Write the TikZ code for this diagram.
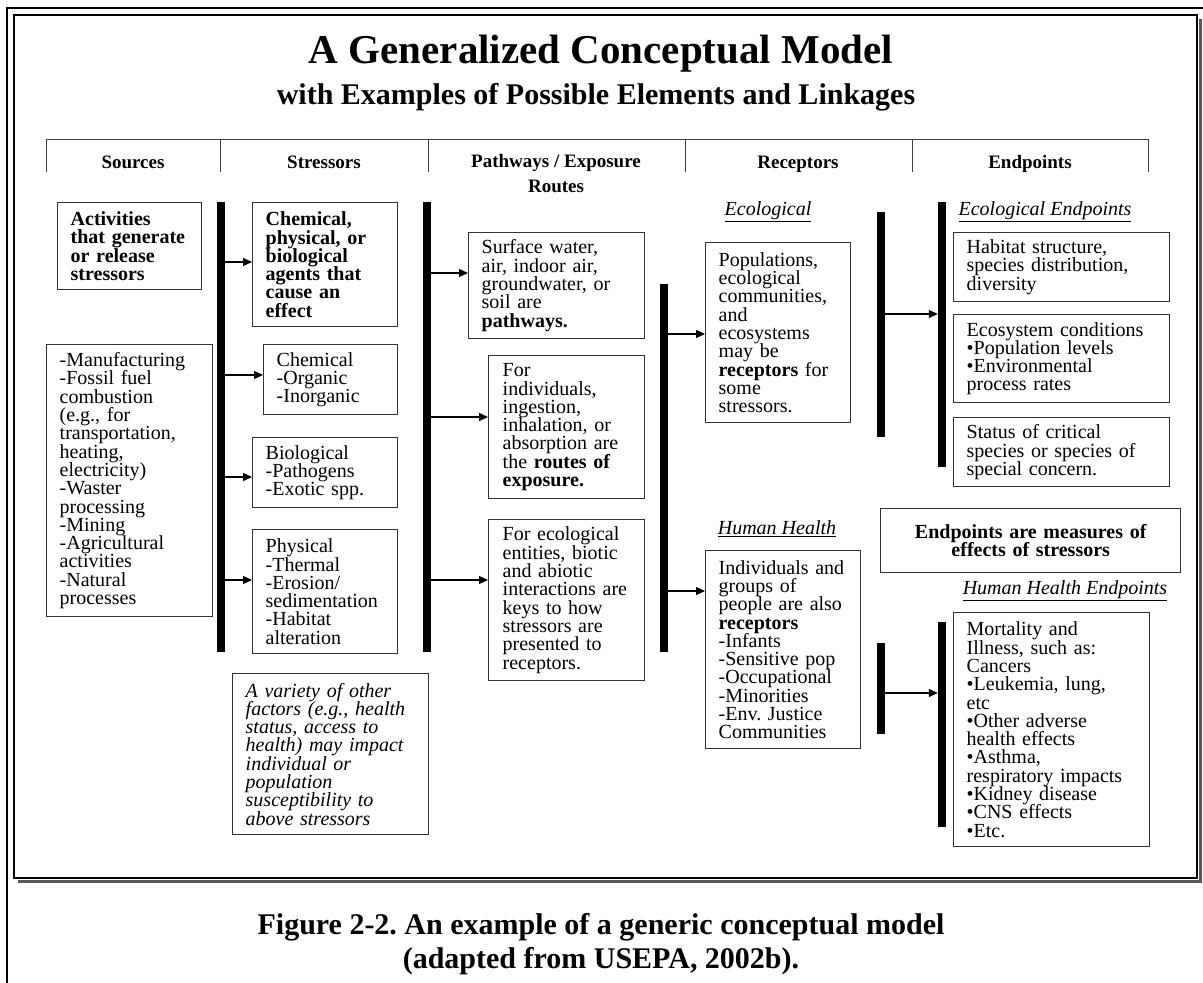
\documentclass[tikz,border=0pt]{standalone}
\usepackage{fontspec}
\setmainfont{Liberation Serif}
\usetikzlibrary{arrows.meta}
\frenchspacing

\newcommand{\bodytext}{\fontsize{20}{18.3}\selectfont\lineskiplimit=-30pt}

\begin{document}
\begin{tikzpicture}[x=1pt,y=-1pt,
	box/.style={draw=black!80, line width=1.4pt, anchor=north west, align=left,
		inner xsep=13pt, inner ysep=2pt, font=\bodytext},
	bar/.style={fill=black, inner sep=0pt, minimum width=8pt, anchor=north},
	arr/.style={line width=1.1pt, -{Triangle[length=9pt,width=8pt]}},
	head/.style={font=\fontsize{19}{25}\selectfont\bfseries, align=center, anchor=base},
	group/.style={font=\bodytext\itshape}]
	\useasboundingbox (0,0) rectangle (1203,983);
	
	%draw frames
	\draw [line width=1.3pt] (7,983) -- (7,8) -- (1203,8);
	\draw [line width=3pt, black!65] (18,881) -- (1200,881) -- (1200,19);
	\draw [line width=2.5pt] (14,15) rectangle (1197,878);
	
	%title
	\node[font=\fontsize{41}{45}\selectfont\bfseries] (title) at (601,54) {A Generalized Conceptual Model};
	\node[font=\fontsize{30}{34}\selectfont\bfseries] (subtitle) at (596,97) {with Examples of Possible Elements and Linkages};
	
	%header line and ticks
	\draw [line width=1pt, black!75] (46,139) -- (1148,139);
	\foreach \x in {46,220,428,685,912,1148}
	\draw [line width=1pt, black!75] (\x,139) -- (\x,172);
	\node[head] (hsrc) at (133,168) {Sources};
	\node[head] (hstr) at (324,168) {Stressors};
	\node[head, anchor=north] (hpath) at (556,150.5) {Pathways / Exposure\\Routes};
	\node[head] (hrec) at (798,168) {Receptors};
	\node[head] (hend) at (1030,168) {Endpoints};
	
	%thick bars
	\foreach \name/\x/\top/\bot in {barS/221/202/652, barP/427/202/652, barR/664/284/652,
		barEL/881/212/437, barER/942/202/467, barHL/881/643/734, barHR/942/622/827}
	\node[bar, minimum height={(\bot-\top)*1pt}] (\name) at (\x,\top) {};
	
	%sources
	\node[box, text width=118pt, minimum height=87pt, font=\bodytext\bfseries] (act) at (57,202)
		{Activities\\that generate\\or release\\stressors};
	\node[box, text width=140pt, minimum height=272pt] (srclist) at (46,344)
		{-Manufacturing\\-Fossil fuel\\combustion\\(e.g., for\\transportation,\\heating,\\electricity)\\-Waster\\processing\\-Mining\\-Agricultural\\activities\\-Natural\\processes};
	
	%stressors
	\node[box, text width=119pt, minimum height=124pt, font=\bodytext\bfseries] (agents) at (252,202)
		{Chemical,\\physical, or\\biological\\agents that\\cause an\\effect};
	\node[box, text width=108pt, minimum height=70pt] (chem) at (263,344)
		{Chemical\\-Organic\\-Inorganic};
	\node[box, text width=119pt, minimum height=70pt] (bio) at (252,437)
		{Biological\\-Pathogens\\-Exotic spp.};
	\node[box, text width=119pt, minimum height=124pt] (phys) at (252,529)
		{Physical\\-Thermal\\-Erosion/\\sedimentation\\-Habitat\\alteration};
	\node[box, text width=170pt, minimum height=161pt, font=\bodytext\itshape] (factors) at (232,673)
		{A variety of other\\factors (e.g., health\\status, access to\\health) may impact\\individual or\\population\\susceptibility to\\above stressors};
	
	%pathways
	\node[box, text width=150pt, minimum height=106pt] (media) at (468,232)
		{Surface water,\\air, indoor air,\\groundwater, or\\soil are\\\textbf{pathways.}};
	\node[box, text width=128pt, minimum height=143pt, inner xsep=14pt] (routes) at (488,355)
		{For\\individuals,\\ingestion,\\inhalation, or\\absorption are\\the \textbf{routes of}\\\textbf{exposure.}};
	\node[box, text width=128pt, minimum height=161pt, inner xsep=14pt] (inter) at (488,519)
		{For ecological\\entities, biotic\\and abiotic\\interactions are\\keys to how\\stressors are\\presented to\\receptors.};
	
	%receptors
	\node[group] (lecol) at (768,212) {\underline{Ecological}};
	\node[box, text width=119pt, minimum height=180pt] (rececol) at (705,242)
		{Populations,\\ecological\\communities,\\and\\ecosystems\\may be\\\textbf{receptors} for\\some\\stressors.};
	\node[group] (lhum) at (777,529) {\underline{Human Health}};
	\node[box, text width=129pt, minimum height=198pt] (rechum) at (705,550)
		{Individuals and\\groups of\\people are also\\\textbf{receptors}\\-Infants\\-Sensitive pop\\-Occupational\\-Minorities\\-Env. Justice\\Communities};
	
	%endpoints
	\node[group] (lecoend) at (1045,212) {\underline{Ecological Endpoints}};
	\node[box, text width=190pt, minimum height=69pt] (habitat) at (953,232)
		{Habitat structure,\\species distribution,\\diversity};
	\node[box, text width=190pt, minimum height=88pt] (ecocond) at (953,314)
		{Ecosystem conditions\\•Population levels\\•Environmental\\process rates};
	\node[box, text width=190pt, minimum height=69pt] (status) at (953,417)
		{Status of critical\\species or species of\\special concern.};
	\node[box, text width=274pt, minimum height=64pt, align=center, font=\bodytext\bfseries] (note) at (880,508)
		{Endpoints are measures of\\effects of stressors};
	\node[group] (lhumend) at (1065,591) {\underline{Human Health Endpoints}};
	\node[box, text width=170pt, minimum height=234pt] (mortal) at (953,612)
		{Mortality and\\Illness, such as:\\Cancers\\•Leukemia, lung,\\etc\\•Other adverse\\health effects\\•Asthma,\\respiratory impacts\\•Kidney disease\\•CNS effects\\•Etc.};
	
	%arrows
	\draw[arr] (barS.east |- 0,262) -- (agents.west |- 0,262);
	\draw[arr] (barS.east |- 0,375) -- (chem.west |- 0,375);
	\draw[arr] (barS.east |- 0,477) -- (bio.west |- 0,477);
	\draw[arr] (barS.east |- 0,580) -- (phys.west |- 0,580);
	\draw[arr] (barP.east |- 0,273) -- (media.west |- 0,273);
	\draw[arr] (barP.east |- 0,417) -- (routes.west |- 0,417);
	\draw[arr] (barP.east |- 0,580) -- (inter.west |- 0,580);
	\draw[arr] (barR.east |- 0,334) -- (rececol.west |- 0,334);
	\draw[arr] (barR.east |- 0,591) -- (rechum.west |- 0,591);
	\draw[arr] (barEL.east |- 0,314) -- (barER.west |- 0,314);
	\draw[arr] (barHL.east |- 0,693) -- (barHR.west |- 0,693);
	
	%caption
	\node[font=\fontsize{30}{34}\selectfont\bfseries, align=center] (caption) at (601,944)
		{Figure 2-2. An example of a generic conceptual model\\(adapted from USEPA, 2002b).};
\end{tikzpicture}
\end{document}
